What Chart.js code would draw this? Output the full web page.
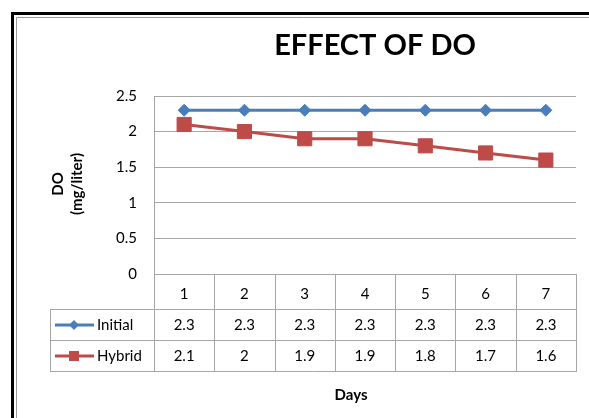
<!DOCTYPE html>
<html><head><meta charset="utf-8">
<script src="https://cdn.jsdelivr.net/npm/chart.js@4"></script>
<style>html,body{margin:0;padding:0;background:#fff}#wrap{width:589px;height:418px;position:relative}</style>
</head><body><div id="wrap"><canvas id="c" width="589" height="418"></canvas></div>
<script>
const days = ['1','2','3','4','5','6','7'];
const initial = [2.3,2.3,2.3,2.3,2.3,2.3,2.3];
const hybrid = [2.1,2,1.9,1.9,1.8,1.7,1.6];
const seriesNames = ['Initial','Hybrid'];
const titleText = 'EFFECT OF DO';
const yTitle = ['DO','(mg/liter)'];
const xTitle = 'Days';

const BLUE = '#4A7EBB', RED = '#BE4B48';
const FONT = 'Lato, "Open Sans", sans-serif';
const LINE = '#a6a6a6';

function hline(ctx, x1, x2, y){ y=Math.round(y)+0.5; ctx.beginPath(); ctx.moveTo(Math.round(x1),y); ctx.lineTo(Math.round(x2)+1,y); ctx.stroke(); }
function vline(ctx, x, y1, y2){ x=Math.round(x)+0.5; ctx.beginPath(); ctx.moveTo(x,Math.round(y1)); ctx.lineTo(x,Math.round(y2)+1); ctx.stroke(); }

const deco = {
  id:'deco',
  beforeDraw(chart){
    const ctx = chart.ctx;
    ctx.save();
    ctx.fillStyle='#fff'; ctx.fillRect(0,0,chart.width,chart.height);
    ctx.strokeStyle='#000'; ctx.lineWidth=3;
    ctx.beginPath(); ctx.moveTo(12.5,440); ctx.lineTo(12.5,13.5); ctx.lineTo(620,13.5); ctx.stroke();
    ctx.strokeStyle='#9a9a9a'; ctx.lineWidth=1;
    ctx.beginPath(); ctx.moveTo(16.5,440); ctx.lineTo(16.5,17.5); ctx.lineTo(620,17.5); ctx.stroke();
    ctx.restore();
  },
  afterDraw(chart){
    const ctx = chart.ctx, xs = chart.scales.x, a = chart.chartArea;
    const n = days.length, step = (a.right - a.left)/n;
    const r0 = a.bottom, r1 = 309, r2 = 340, r3 = 371, legL = 50;
    ctx.save();
    ctx.strokeStyle = LINE; ctx.lineWidth = 1;
    hline(ctx, a.left, a.right, r0);
    hline(ctx, legL, a.right, r1);
    hline(ctx, legL, a.right, r2);
    hline(ctx, legL, a.right, r3);
    vline(ctx, legL, r1, r3);
    vline(ctx, a.left, r0, r3);
    for(let i=1;i<=n;i++) vline(ctx, a.left + step*i, r0, r3);
    // values
    ctx.fillStyle='#000'; ctx.font = '15px '+FONT; ctx.textAlign='center'; ctx.textBaseline='middle';
    const rows=[initial,hybrid], ys=[(r1+r2)/2+0.5,(r2+r3)/2+0.5];
    rows.forEach((vals,k)=>vals.forEach((v,i)=>ctx.fillText(String(v), xs.getPixelForValue(i), ys[k])));
    // legend keys
    ctx.textAlign='left';
    seriesNames.forEach((nm,k)=>{
      const y = ys[k];
      ctx.strokeStyle = k?RED:BLUE; ctx.fillStyle = k?RED:BLUE; ctx.lineWidth=3;
      ctx.beginPath(); ctx.moveTo(55,y); ctx.lineTo(94,y); ctx.stroke();
      if(k===0){ ctx.beginPath(); ctx.moveTo(74,y-5); ctx.lineTo(79,y); ctx.lineTo(74,y+5); ctx.lineTo(69,y); ctx.closePath(); ctx.fill(); }
      else { ctx.fillRect(69,y-5,10,10); }
      ctx.fillStyle='#000'; ctx.fillText(nm, 97, y);
    });
    // titles
    ctx.textAlign='center';
    ctx.font = 'bold 29px '+FONT; ctx.fillText(titleText, 375, 46);
    ctx.font = 'bold 15px '+FONT; ctx.fillText(xTitle, 351, 395);
    ctx.save(); ctx.translate(0,184); ctx.rotate(-Math.PI/2);
    ctx.fillText(yTitle[0], 0, 58); ctx.fillText(yTitle[1], 0, 77);
    ctx.restore();
    ctx.restore();
  }
};

new Chart(document.getElementById('c'), {
  type:'line',
  data:{ labels: days, datasets:[
    {label:seriesNames[0], data:initial, borderColor:BLUE, backgroundColor:BLUE, borderWidth:3, pointStyle:'rectRot', pointRadius:6, pointBorderWidth:1, pointBackgroundColor:BLUE, pointBorderColor:BLUE, tension:0},
    {label:seriesNames[1], data:hybrid, borderColor:RED, backgroundColor:RED, borderWidth:3, pointStyle:'rect', pointRadius:10, pointBorderWidth:1, pointBackgroundColor:RED, pointBorderColor:RED, tension:0}
  ]},
  options:{
    responsive:false, animation:false, devicePixelRatio:1,
    layout:{padding:{left:0,right:13,top:96,bottom:0}},
    plugins:{legend:{display:false}, title:{display:false}, tooltip:{enabled:false}},
    scales:{
      x:{ offset:true, grid:{display:false}, border:{display:false},
          ticks:{color:'#000', font:{family:FONT,size:15}, padding:3, maxRotation:0},
          afterFit(s){ s.height = 144; } },
      y:{ min:0, max:2.5, grid:{color:LINE, drawTicks:false}, border:{display:true,color:LINE},
          ticks:{stepSize:0.5, color:'#000', font:{family:FONT,size:15}, padding:17, callback:v=>String(v)},
          afterFit(s){ s.width = 154; } }
    }
  },
  plugins:[deco]
});
</script></body></html>
